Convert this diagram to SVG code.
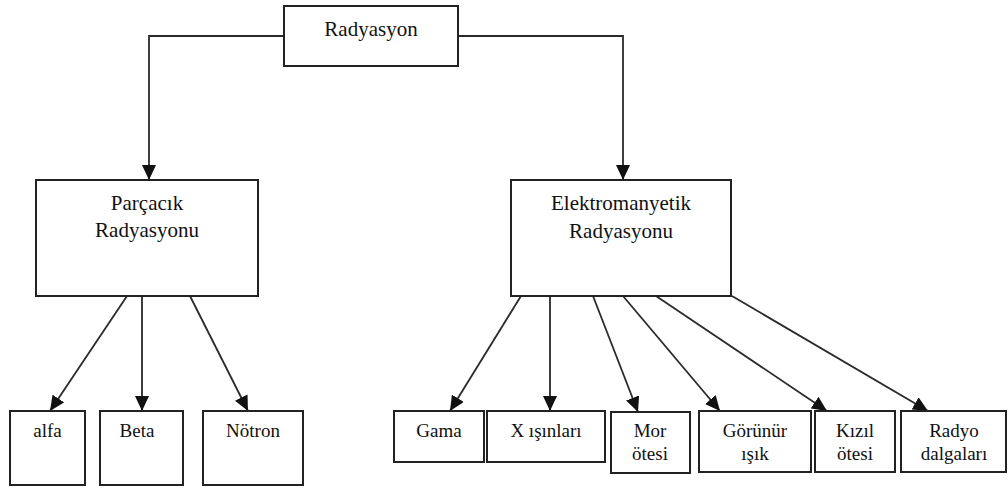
<svg xmlns="http://www.w3.org/2000/svg" width="1008" height="489" viewBox="0 0 1008 489">
<style>
.box{fill:#fff;stroke:#222;stroke-width:2}
.t{fill:#111;text-anchor:middle}
.big{font-size:21px}
.sm{font-size:19px}
.c{fill:none;stroke:#2a2a2a;stroke-width:1.8}
</style>
<defs>
<marker id="ah" markerUnits="userSpaceOnUse" markerWidth="15" markerHeight="14" refX="15" refY="7" orient="auto">
<path d="M0,0 L15,7 L0,14 z" fill="#111"/>
</marker>
</defs>
<rect width="1008" height="489" fill="#fff"/>
<g id="connectors">
<path class="c" d="M284,36 H149 V180" marker-end="url(#ah)"/>
<path class="c" d="M458,36 H623 V180" marker-end="url(#ah)"/>
<path class="c" d="M127,296 L50,411" marker-end="url(#ah)"/>
<path class="c" d="M142,296 L142,411" marker-end="url(#ah)"/>
<path class="c" d="M190,296 L248,411" marker-end="url(#ah)"/>
<path class="c" d="M521,296 L450,411" marker-end="url(#ah)"/>
<path class="c" d="M550,296 L550,411" marker-end="url(#ah)"/>
<path class="c" d="M593,296 L638,412" marker-end="url(#ah)"/>
<path class="c" d="M623,296 L720,411" marker-end="url(#ah)"/>
<path class="c" d="M656,296 L827,411" marker-end="url(#ah)"/>
<path class="c" d="M732,296 L928,411" marker-end="url(#ah)"/>
</g>
<g id="nodes" font-family="Liberation Serif, Times New Roman, serif">
<g id="radyasyon">
<rect class="box" x="284" y="6" width="174" height="60"/>
<text class="t big" x="371" y="36">Radyasyon</text>
</g>
<g id="parcacik">
<rect class="box" x="36" y="180" width="222" height="116"/>
<text class="t big" x="147" y="210">Parçacık</text>
<text class="t big" x="147" y="237">Radyasyonu</text>
</g>
<g id="elektromanyetik">
<rect class="box" x="511" y="180" width="220" height="116"/>
<text class="t big" x="621" y="210">Elektromanyetik</text>
<text class="t big" x="621" y="238">Radyasyonu</text>
</g>
<g id="alfa">
<rect class="box" x="10" y="411" width="75" height="74"/>
<text class="t sm" x="47.5" y="437">alfa</text>
</g>
<g id="beta">
<rect class="box" x="100" y="411" width="83" height="74"/>
<text class="t sm" x="137" y="437">Beta</text>
</g>
<g id="notron">
<rect class="box" x="203" y="411" width="100" height="74"/>
<text class="t sm" x="253" y="437">Nötron</text>
</g>
<g id="gama">
<rect class="box" x="394" y="411" width="90" height="51"/>
<text class="t sm" x="439" y="437">Gama</text>
</g>
<g id="xisinlari">
<rect class="box" x="487" y="411" width="118" height="51"/>
<text class="t sm" x="546" y="437">X ışınları</text>
</g>
<g id="morotesi">
<rect class="box" x="611" y="412" width="79" height="61"/>
<text class="t sm" x="650" y="437">Mor</text>
<text class="t sm" x="650" y="460">ötesi</text>
</g>
<g id="gorunur">
<rect class="box" x="699" y="411" width="112" height="61"/>
<text class="t sm" x="755" y="437">Görünür</text>
<text class="t sm" x="755" y="460">ışık</text>
</g>
<g id="kizilotesi">
<rect class="box" x="815" y="411" width="80" height="61"/>
<text class="t sm" x="855" y="437">Kızıl</text>
<text class="t sm" x="855" y="460">ötesi</text>
</g>
<g id="radyo">
<rect class="box" x="901" y="411" width="105" height="61"/>
<text class="t sm" x="954" y="437">Radyo</text>
<text class="t sm" x="954" y="460">dalgaları</text>
</g>
</g>
</svg>
